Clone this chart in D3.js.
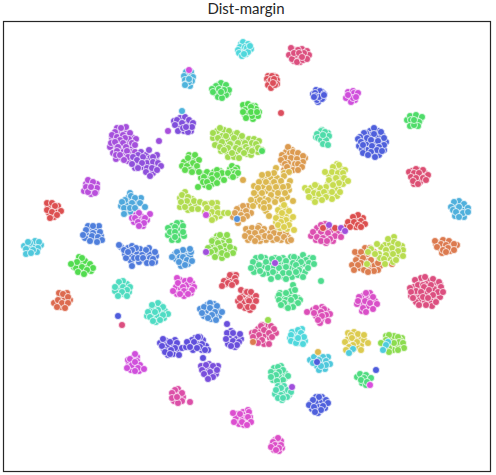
<!DOCTYPE html>
<html>
<head>
<meta charset="utf-8">
<script src="https://cdn.jsdelivr.net/npm/d3@7"></script>
<style>
html, body { margin: 0; padding: 0; background: #fff; }
svg { display: block; }
</style>
</head>
<body>
<svg id="chart"></svg>
<script>
// t-SNE embedding, values. One array per class.
var cyanTop = [[244,46],[246,50],[242,50],[240,50],[244,52],[249,49],[241,53],[246,54],[241,44],[243,42],[248,44],[240,47],[245,47],[251,49],[238,50],[247,48],[239,53],[248,52],[242,56],[250,46],[244,54]];
var roseTop = [[294,50],[301,51],[296,57],[300,57],[305,56],[292,56],[302,49],[294,61],[300,62],[291,48],[298,50],[307,51],[309,55],[289,55],[295,55],[292,59],[297,62],[294,53],[304,53],[299,53],[303,60],[307,59],[302,57]];
var skyTop = [[188,75],[187,78],[191,75],[188,84],[190,86],[186,72],[191,72],[184,76],[193,77],[185,80],[192,81],[186,84],[189,82],[185,85],[189,79]];
var greenA = [[218,85],[222,87],[216,90],[226,88],[223,93],[218,94],[228,93],[214,88],[221,83],[216,86],[226,85],[212,89],[229,90],[215,93],[213,92],[226,95],[218,97],[222,98],[219,89],[224,90],[221,92]];
var redTop = [[270,77],[274,76],[270,84],[274,82],[268,76],[276,77],[272,76],[267,79],[277,80],[269,82],[277,84],[268,85],[271,88],[275,85],[271,80],[274,79],[273,83]];
var blueTop = [[318,93],[322,92],[317,96],[320,95],[318,102],[323,98],[313,94],[316,90],[320,91],[315,93],[317,100],[322,99],[319,97],[315,96],[324,94],[324,95],[314,97]];
var magentaTop = [[350,93],[352,96],[349,99],[355,100],[348,92],[353,91],[354,93],[358,93],[346,98],[351,102],[353,98],[356,97],[348,95]];
var greenB = [[248,108],[250,110],[254,111],[249,116],[244,108],[255,106],[259,112],[245,115],[253,119],[243,105],[248,104],[252,106],[256,109],[245,110],[251,107],[255,114],[247,114],[258,116],[252,116],[243,112],[246,118],[251,112],[257,112]];
var violetTop = [[183,120],[180,122],[186,122],[190,124],[179,126],[184,131],[180,128],[174,121],[191,131],[180,118],[185,117],[177,120],[189,120],[175,125],[193,123],[182,123],[178,131],[188,132],[192,127],[183,128],[186,127]];
var purpleA = [[119,132],[124,130],[126,133],[114,138],[121,136],[127,136],[133,138],[112,138],[116,146],[122,147],[128,143],[131,147],[120,150],[123,152],[131,152],[116,159],[125,155],[132,157],[122,158],[128,161],[110,147],[136,139],[126,127],[117,128],[121,128],[115,132],[112,135],[117,137],[123,135],[130,133],[129,139],[125,138],[120,140],[111,143],[115,142],[123,143],[132,143],[118,147],[135,145],[126,147],[113,153],[117,151],[127,151],[135,152],[116,155],[120,155],[128,157],[124,160]];
var purpleB = [[141,152],[146,155],[150,158],[140,158],[135,163],[145,160],[150,165],[156,160],[143,167],[149,172],[153,173],[139,164],[135,168],[156,166],[149,150],[138,155],[157,155],[133,157],[143,157],[153,157],[137,160],[147,163],[153,162],[142,163],[158,163],[132,164],[161,166],[138,168],[147,168],[152,168],[157,170],[146,172],[150,176]];
var greenC = [[192,158],[187,162],[191,167],[195,160],[184,162],[196,170],[189,155],[195,155],[188,158],[199,160],[193,163],[182,166],[197,166],[187,166],[190,170],[185,170],[192,172]];
var greenD = [[203,174],[210,174],[214,172],[220,177],[206,178],[215,179],[201,178],[212,184],[205,185],[220,171],[230,169],[236,175],[231,176],[232,166],[199,172],[207,172],[217,170],[222,173],[212,175],[217,175],[204,177],[212,179],[224,180],[203,182],[207,182],[217,183],[209,187],[198,187],[237,168],[235,170],[232,172],[228,173],[235,173],[238,173],[233,177]];
var limeA = [[224,130],[232,134],[216,136],[222,136],[239,138],[228,140],[233,141],[243,140],[218,142],[225,146],[234,146],[241,147],[250,146],[255,148],[227,152],[236,152],[244,148],[247,154],[221,151],[213,138],[217,131],[228,157],[234,157],[251,155],[258,152],[220,128],[229,131],[213,133],[237,133],[242,136],[226,136],[218,138],[234,138],[249,139],[254,139],[259,141],[222,142],[215,145],[230,144],[238,143],[245,143],[252,143],[256,144],[220,147],[246,147],[228,148],[236,148],[258,148],[224,150],[240,150],[248,150],[262,150],[252,151],[232,153],[244,153],[239,158]];
var orangeA = [[292,150],[286,152],[296,156],[288,156],[300,159],[283,163],[290,162],[292,166],[300,163],[296,168],[290,169],[284,170],[305,158],[288,147],[290,153],[293,152],[298,153],[282,155],[303,156],[285,158],[291,158],[297,159],[281,160],[303,162],[288,163],[295,164],[285,164],[298,164],[287,167],[302,167],[293,170],[298,170],[289,172]];
var orangeB = [[240,208],[241,212],[244,216],[233,217],[248,206],[238,223],[251,213],[249,229],[254,231],[259,233],[252,236],[247,232],[259,226],[264,229],[266,240],[260,241],[248,240],[275,230],[281,231],[277,236],[270,233],[283,226],[288,237],[281,240],[273,240],[287,229],[243,206],[237,209],[246,211],[235,213],[241,215],[247,216],[238,219],[243,219],[246,229],[252,228],[258,228],[262,232],[249,233],[255,233],[245,236],[262,237],[265,236],[251,238],[258,238],[255,241],[272,228],[278,226],[283,230],[274,233],[280,234],[286,233],[270,237],[277,239],[284,237],[288,241],[291,240]];
var goldA = [[266,177],[271,178],[277,178],[262,180],[280,183],[270,184],[263,187],[273,190],[258,193],[267,191],[280,190],[289,190],[263,198],[272,199],[278,198],[287,197],[257,197],[256,202],[261,206],[267,204],[254,186],[284,173],[276,168],[290,181],[266,211],[251,200],[289,172],[274,173],[268,174],[262,175],[284,176],[281,181],[259,182],[266,182],[274,182],[288,186],[276,187],[283,187],[258,188],[269,188],[254,193],[262,193],[278,193],[285,193],[271,195],[282,200],[260,200],[268,200],[293,201],[275,202],[264,203],[253,206],[269,207],[264,208],[269,216]];
var yellowA = [[281,208],[286,209],[279,214],[286,215],[282,218],[290,219],[276,222],[283,224],[287,229],[280,228],[284,205],[278,210],[289,211],[282,213],[293,217],[276,218],[286,220],[281,222],[278,225],[289,225],[284,227],[294,230]];
var oliveA = [[335,170],[341,169],[329,175],[335,174],[341,177],[333,180],[338,187],[343,184],[328,184],[335,189],[330,195],[337,196],[345,170],[337,164],[311,192],[317,190],[323,196],[313,198],[319,199],[317,186],[327,192],[305,188],[339,165],[333,167],[325,172],[332,172],[338,173],[343,173],[344,178],[336,178],[329,180],[348,181],[339,183],[333,185],[326,187],[332,192],[340,192],[332,199],[311,188],[320,188],[315,185],[308,191],[314,193],[319,194],[324,192],[309,197],[326,197],[322,200],[315,202]];
var blueBig = [[370,131],[378,131],[370,135],[378,136],[363,140],[374,142],[381,142],[367,143],[370,149],[367,150],[375,150],[379,155],[384,150],[386,142],[382,135],[359,146],[373,154],[362,149],[374,128],[366,133],[364,133],[381,132],[374,134],[360,137],[358,139],[367,138],[384,138],[371,140],[378,141],[361,142],[363,145],[372,146],[384,145],[379,147],[377,150],[382,151],[371,152],[363,153],[368,155],[375,157]];
var greenE = [[413,117],[418,118],[413,122],[417,124],[407,120],[420,120],[410,116],[416,115],[422,117],[411,120],[419,122],[410,126],[418,126],[414,125],[414,120]];
var tealTop = [[320,134],[324,138],[320,137],[328,133],[325,143],[322,130],[316,137],[321,131],[325,132],[317,134],[329,136],[318,138],[321,140],[326,140],[323,144],[328,145],[323,135]];
var roseRight = [[412,171],[418,170],[421,175],[417,176],[412,175],[425,173],[420,182],[414,184],[426,176],[416,169],[423,170],[409,172],[414,173],[419,173],[428,175],[411,177],[416,178],[423,178],[426,180],[413,181],[418,184]];
var skyRight = [[456,204],[461,204],[455,208],[462,209],[458,213],[465,209],[461,215],[455,216],[464,217],[459,201],[454,202],[464,204],[451,207],[459,207],[468,208],[453,210],[456,212],[463,213],[468,212],[459,217]];
var redMid = [[355,219],[352,225],[356,227],[363,218],[347,226],[360,224],[358,215],[353,217],[361,221],[348,222],[354,222],[365,224],[358,225],[350,227],[361,227]];
var pinkMid = [[317,228],[325,224],[315,235],[324,233],[334,232],[339,234],[329,236],[326,243],[316,240],[311,236],[333,241],[321,225],[326,228],[329,230],[332,230],[313,232],[321,232],[328,233],[337,232],[335,236],[317,237],[341,237],[323,238],[330,239],[321,241],[327,241]];
var orangeRight = [[438,243],[445,242],[451,245],[440,248],[445,249],[450,251],[436,244],[442,253],[457,245],[435,241],[443,240],[449,241],[441,244],[454,244],[446,245],[437,247],[448,248],[454,250],[443,250],[446,252]];
var orangeC = [[365,248],[358,256],[367,254],[374,252],[360,268],[370,268],[366,261],[374,265],[380,266],[352,265],[355,252],[378,270],[370,248],[361,252],[379,258],[363,258],[356,260],[371,260],[361,263],[378,263],[392,264],[358,265],[368,265],[354,270],[364,270],[374,271],[368,272]];
var limeB = [[385,245],[390,244],[397,248],[381,247],[379,254],[390,252],[399,255],[389,258],[393,262],[380,258],[402,246],[394,237],[371,249],[388,239],[394,242],[377,244],[398,244],[392,248],[386,250],[403,250],[398,251],[368,252],[375,254],[393,254],[386,255],[403,256],[384,259],[396,260],[385,264],[367,264]];
var tealBig = [[256,258],[257,264],[263,266],[255,268],[265,258],[271,262],[275,258],[283,258],[288,265],[283,263],[278,263],[272,259],[298,259],[300,266],[305,264],[291,268],[295,269],[305,272],[283,268],[268,273],[263,274],[254,272],[275,273],[284,277],[292,277],[298,275],[310,258],[261,257],[291,257],[294,257],[303,255],[313,258],[279,259],[286,261],[306,260],[253,262],[266,262],[301,262],[293,263],[309,263],[314,264],[259,265],[296,265],[251,268],[268,268],[274,267],[286,267],[308,268],[279,268],[299,270],[260,271],[273,272],[283,273],[289,273],[296,272],[303,277],[278,277],[271,279],[286,279]];
var tealLow = [[283,295],[289,296],[284,299],[293,303],[288,303],[280,293],[298,298],[300,300],[286,306],[278,297],[291,291],[293,285],[295,290],[286,293],[279,295],[295,297],[279,300],[286,300],[291,300],[284,303],[298,303],[281,305],[293,307],[288,308]];
var pinkBig = [[420,282],[428,281],[437,285],[414,287],[420,288],[426,284],[434,289],[440,284],[410,288],[418,295],[426,293],[431,298],[437,297],[414,294],[420,300],[425,301],[430,303],[440,297],[411,296],[435,282],[416,302],[421,278],[432,306],[425,277],[433,279],[415,280],[439,282],[418,285],[423,285],[431,285],[441,287],[424,287],[429,290],[416,291],[411,292],[421,292],[438,292],[443,292],[433,295],[423,297],[413,298],[428,298],[436,302],[419,305],[426,305]];
var magentaRight = [[363,296],[368,297],[371,300],[362,304],[368,306],[375,301],[357,304],[370,293],[362,311],[366,293],[359,297],[373,297],[358,301],[365,301],[370,303],[377,304],[363,308],[373,309],[366,312]];
var magentaLow = [[318,311],[322,307],[327,311],[316,316],[321,320],[327,318],[313,310],[320,323],[316,308],[324,309],[321,312],[314,313],[330,314],[326,315],[322,316],[318,320],[328,321]];
var redCenter = [[243,295],[250,296],[244,302],[253,299],[241,290],[253,303],[245,308],[250,310],[238,301],[246,292],[247,292],[251,292],[256,296],[240,298],[248,300],[249,301],[256,301],[240,306],[248,307],[253,307]];
var pinkCenter = [[258,329],[266,326],[271,326],[260,332],[265,335],[270,338],[255,339],[264,344],[258,338],[276,333],[262,325],[252,333],[261,326],[274,329],[264,330],[255,332],[269,333],[259,335],[253,337],[272,337],[262,340],[258,343],[269,344]];
var cyanLow = [[295,332],[300,335],[294,338],[301,340],[292,332],[305,341],[298,343],[302,329],[290,338],[298,330],[301,333],[291,335],[304,337],[291,341],[296,343],[303,344],[298,338]];
var yellowLow = [[354,332],[361,338],[355,340],[348,339],[361,345],[352,350],[357,347],[364,340],[348,333],[358,334],[351,335],[364,335],[352,338],[345,342],[357,342],[368,343],[353,345],[349,347],[346,350],[361,350]];
var limeLow = [[392,338],[394,336],[391,345],[398,345],[402,338],[386,336],[384,347],[393,350],[400,340],[389,335],[398,337],[386,340],[399,342],[381,343],[394,343],[403,343],[389,348],[404,348],[398,350],[389,352]];
var cyanBottom = [[318,354],[321,357],[322,363],[317,366],[328,357],[325,369],[319,370],[310,360],[323,357],[314,357],[319,360],[326,361],[313,363],[330,364],[326,365],[321,366]];
var greenLow = [[363,376],[368,378],[357,377],[362,383],[366,385],[360,374],[366,375],[371,378],[364,378],[361,380],[367,382]];
var tealBottomA = [[274,368],[281,366],[274,373],[281,376],[285,373],[273,380],[279,384],[285,378],[278,367],[283,370],[271,372],[279,372],[276,375],[288,376],[271,377],[283,380],[277,381]];
var tealBottomB = [[278,386],[284,386],[279,392],[285,393],[275,394],[282,400],[289,395],[281,388],[276,390],[288,390],[291,392],[281,395],[287,397],[278,398],[283,398]];
var blueLow = [[316,397],[322,397],[317,402],[322,401],[311,403],[319,407],[325,408],[318,413],[312,409],[319,397],[313,400],[326,400],[328,403],[309,405],[323,406],[314,407],[321,410],[315,412]];
var pinkBottom = [[275,440],[281,441],[277,443],[272,445],[282,448],[274,450],[279,451],[278,438],[273,442],[275,445],[281,445],[271,447],[279,448],[276,450]];
var magentaBottom = [[243,412],[237,414],[245,415],[237,419],[243,418],[239,424],[236,417],[250,417],[244,425],[248,410],[249,412],[233,413],[240,414],[247,417],[248,417],[234,422],[242,422],[251,422],[247,425]];
var pinkSmall = [[175,393],[179,392],[176,400],[180,397],[174,401],[183,397],[178,389],[175,390],[172,393],[182,393],[172,398],[182,401],[178,403],[177,397]];
var violetLow = [[209,364],[205,369],[210,368],[214,371],[207,376],[212,374],[216,374],[201,366],[218,366],[206,365],[213,366],[202,370],[217,370],[210,372],[204,374],[213,377],[208,379]];
var indigoA = [[166,341],[173,345],[167,346],[173,354],[178,349],[164,349],[175,340],[168,355],[160,343],[163,339],[170,342],[177,343],[162,346],[175,348],[182,348],[171,350],[165,352],[170,354],[179,355]];
var indigoB = [[195,338],[190,344],[197,344],[203,340],[193,350],[202,350],[206,346],[186,347],[200,337],[198,337],[192,340],[187,342],[194,342],[202,344],[190,347],[200,347],[197,348],[208,350],[205,350]];
var indigoC = [[230,336],[236,336],[230,342],[236,339],[241,339],[228,344],[235,347],[231,331],[227,333],[233,333],[240,334],[226,339],[233,341],[239,342],[237,345],[231,346]];
var magentaLeft = [[133,358],[137,357],[129,364],[137,361],[131,370],[139,371],[128,360],[136,366],[135,354],[130,359],[140,365],[132,365],[135,362],[127,368],[138,368],[144,369],[135,371]];
var turquoiseA = [[155,306],[160,305],[152,309],[161,312],[153,316],[158,316],[165,311],[147,316],[156,322],[164,318],[158,303],[152,305],[163,307],[158,310],[148,312],[155,312],[168,314],[163,315],[150,317],[160,320],[153,321]];
var turquoiseB = [[120,285],[127,284],[118,290],[124,294],[115,291],[129,292],[123,281],[119,282],[115,287],[123,287],[130,287],[127,290],[122,292],[118,296],[127,296]];
var blueMid = [[207,305],[214,304],[206,311],[213,309],[218,310],[204,316],[211,319],[219,316],[215,317],[200,309],[210,303],[217,306],[204,307],[210,308],[202,313],[215,312],[222,312],[212,315],[208,318],[216,320]];
var magentaMid = [[180,280],[185,281],[176,287],[181,289],[187,285],[186,291],[177,294],[191,293],[184,296],[192,283],[177,278],[190,280],[178,283],[183,287],[194,287],[192,290],[173,291],[184,291],[180,294],[188,294]];
var redSmall = [[233,275],[229,279],[232,281],[226,284],[236,275],[230,275],[235,278],[224,281],[236,282],[228,283],[232,285],[222,286]];
var redLeft = [[60,297],[65,299],[61,307],[66,304],[70,300],[54,303],[67,293],[59,293],[63,294],[68,297],[58,300],[62,303],[68,303],[57,307],[65,308]];
var greenLeft = [[80,264],[85,261],[74,267],[81,270],[88,267],[85,272],[79,257],[76,268],[91,271],[82,258],[77,262],[71,264],[90,264],[82,267],[93,268],[87,270],[78,272],[84,274]];
var cyanLeft = [[33,245],[29,247],[35,241],[24,246],[41,245],[30,243],[28,242],[39,242],[38,248],[26,249],[37,252],[33,250],[26,254],[31,253]];
var blueLeft = [[90,229],[96,228],[86,234],[97,234],[91,238],[85,238],[101,236],[95,239],[88,226],[99,226],[93,226],[86,230],[100,232],[93,233],[83,235],[92,236],[98,237],[102,240],[90,241],[97,242]];
var redFar = [[48,206],[55,209],[49,213],[58,211],[47,203],[54,217],[58,206],[52,203],[55,206],[47,210],[61,211],[52,212],[57,215],[50,218]];
var purpleSmall = [[90,184],[94,186],[90,190],[86,184],[96,192],[91,194],[84,191],[97,184],[88,180],[93,182],[86,187],[97,188],[88,192],[95,193],[91,187]];
var skyMid = [[128,198],[127,204],[136,203],[127,212],[121,206],[141,198],[131,212],[137,211],[130,193],[131,196],[135,198],[125,200],[122,202],[132,203],[140,203],[145,207],[124,208],[130,208],[135,208],[124,214]];
var magentaSky = [[136,215],[141,216],[134,222],[140,219],[147,220],[137,219],[143,226],[139,213],[150,214],[132,218],[135,218],[145,218],[138,222],[144,223],[139,226]];
var greenMid = [[172,226],[180,229],[172,235],[179,235],[181,223],[168,235],[178,240],[172,240],[184,236],[177,223],[183,226],[175,227],[168,228],[170,232],[175,232],[183,232],[175,237]];
var limeC = [[185,198],[192,199],[184,204],[189,205],[196,205],[180,198],[188,210],[180,207],[185,192],[182,195],[188,197],[187,201],[194,201],[181,202],[200,202],[185,207],[192,209],[198,209]];
var limeD = [[208,204],[214,206],[210,210],[205,204],[216,212],[211,216],[220,216],[205,212],[217,203],[212,203],[207,208],[217,208],[212,212],[218,213],[224,213],[228,213],[208,215],[215,218],[212,220]];
var limeE = [[217,236],[224,238],[216,240],[222,243],[229,241],[225,246],[212,246],[217,247],[225,251],[231,251],[219,254],[214,254],[208,253],[234,249],[222,258],[220,235],[227,235],[213,240],[212,241],[218,243],[230,247],[208,248],[220,248],[215,250],[211,252],[222,253],[233,253],[227,255],[215,257]];
var blueWide = [[128,248],[132,246],[125,254],[131,255],[140,249],[146,254],[150,254],[156,256],[139,262],[137,254],[145,260],[131,261],[155,262],[121,247],[126,258],[149,248],[136,248],[124,250],[132,250],[146,250],[128,252],[155,252],[142,255],[134,258],[138,258],[143,258],[150,258],[153,259],[147,263],[152,263],[132,266]];
var blueSmall = [[186,252],[180,252],[175,254],[183,254],[187,256],[190,256],[176,259],[182,261],[188,264],[191,252],[181,266],[190,249],[183,250],[177,252],[172,257],[180,257],[183,257],[187,260],[192,261],[179,262],[185,265]];

// points that sit apart from their cluster, drawn last
var strays = [[281,113],[182,111],[168,131],[159,141],[262,151],[243,180],[323,228],[335,228],[329,225],[341,228],[345,231],[275,263],[321,281],[307,312],[253,342],[268,320],[353,349],[349,353],[388,342],[386,345],[383,350],[318,352],[317,362],[376,370],[370,385],[292,387],[190,402],[203,358],[227,324],[118,316],[122,325],[189,70],[206,215],[206,252],[237,219],[119,245]];
var strayColors = ['#dc4f5f','#4fb4dc','#a950dc','#9c4fdc','#4fdc5f','#dcac4f','#dc4f50','#dc4f50','#a04fdc','#a04fdc','#a04fdc','#a04fdc','#4fdc8f','#dc4fb8','#dc7a4f','#9adc4f','#4fccdc','#4fccdc','#4fccdc','#4fccdc','#4fccdc','#dcb84f','#4f5cdc','#4f5cdc','#d94fdc','#a04fdc','#dc4fa8','#5f4fdc','#6a4fdc','#4f5cdc','#dc4f80','#d14fdc','#c94fdc','#a04fdc','#4f90dc','#4f7adc'];

var series = [orangeC, redCenter, pinkCenter, cyanTop, roseTop, skyTop, greenA, redTop, blueTop, magentaTop, greenB, violetTop, purpleA, purpleB, greenC, greenD, limeA, orangeA, orangeB, goldA, yellowA, oliveA, blueBig, greenE, tealTop, roseRight, skyRight, redMid, pinkMid, orangeRight, limeB, tealBig, tealLow, pinkBig, magentaRight, magentaLow, cyanLow, yellowLow, limeLow, cyanBottom, greenLow, tealBottomA, tealBottomB, blueLow, pinkBottom, magentaBottom, pinkSmall, violetLow, indigoA, indigoB, indigoC, magentaLeft, turquoiseA, turquoiseB, blueMid, magentaMid, redSmall, redLeft, greenLeft, cyanLeft, blueLeft, redFar, purpleSmall, skyMid, magentaSky, greenMid, limeC, limeD, limeE, blueWide, blueSmall];
var colors = ['#dc7d4f','#dc4f60','#dc4f98','#4fd8dc','#dc4f7f','#4fb4dc','#4fdc62','#dc4f5a','#4f5cdc','#d04fdc','#52dc50','#8050dc','#a550dc','#8f50dc','#5fdc4f','#5adc4f','#a2dc4f','#dc9a4f','#dca254','#dcb84f','#dcd04f','#c8dc4f','#4f60dc','#4fdc6a','#4fdcaa','#dc4f73','#4fb0dc','#dc4f4f','#dc4fb0','#dc7a4f','#b8dc4f','#4fdc8f','#4fdc8a','#dc4f80','#d94fc8','#dc4fb8','#4fd8dc','#dccb4f','#8cdc4f','#4fc8dc','#4fdc80','#4fdc9f','#4fdcb0','#4f60dc','#dc4fc8','#dc4fd0','#dc4fa8','#7a4fdc','#5f4fdc','#5f4fdc','#6a4fdc','#d04fdc','#4fdcc4','#4fdcc0','#4f90dc','#d94fd4','#dc4f5f','#dc6a4f','#52dc4f','#4fc8dc','#4f7fdc','#dc4f50','#b94fdc','#4fa8dc','#c94fdc','#4fdc73','#b0dc4f','#b8dc4f','#8cdc4f','#4f7adc','#4f98dc'];

var title = 'Dist-margin';

var width = 496, height = 475;
var left = 3, right = 490, top_ = 21, bottom = 471;

var svg = d3.select('#chart').attr('width', width).attr('height', height);

// data are in the picture's own units
var xScale = d3.scaleLinear().domain([left, right]).range([left, right]);
var yScale = d3.scaleLinear().domain([top_, bottom]).range([top_, bottom]);

svg.selectAll('g.cluster')
    .data(series)
    .enter()
    .append('g')
    .attr('class', 'cluster')
    .attr('fill', function(d, i) { return colors[i]; })
    .selectAll('circle')
    .data(function(d) { return d; })
    .enter()
    .append('circle')
    .attr('cx', function(d) { return xScale(d[0]); })
    .attr('cy', function(d) { return yScale(d[1]); })
    .attr('r', 3.5)
    .attr('stroke', '#fff')
    .attr('stroke-width', 0.7);

svg.append('g').selectAll('circle')
    .data(strays)
    .enter()
    .append('circle')
    .attr('cx', function(d) { return xScale(d[0]); })
    .attr('cy', function(d) { return yScale(d[1]); })
    .attr('r', 3.5)
    .attr('stroke', '#fff')
    .attr('stroke-width', 0.7)
    .attr('fill', function(d, i) { return strayColors[i]; });

svg.append('rect')
    .attr('x', left + 0.5)
    .attr('y', top_ + 0.5)
    .attr('width', right - left)
    .attr('height', bottom - top_)
    .attr('fill', 'none')
    .attr('stroke', '#262626')
    .attr('stroke-width', 1.2);

svg.append('text')
    .attr('x', 246)
    .attr('y', 14)
    .attr('text-anchor', 'middle')
    .attr('font-family', 'Lato, sans-serif')
    .attr('font-size', 15)
    .attr('fill', '#262626')
    .text(title);
</script>
</body>
</html>
